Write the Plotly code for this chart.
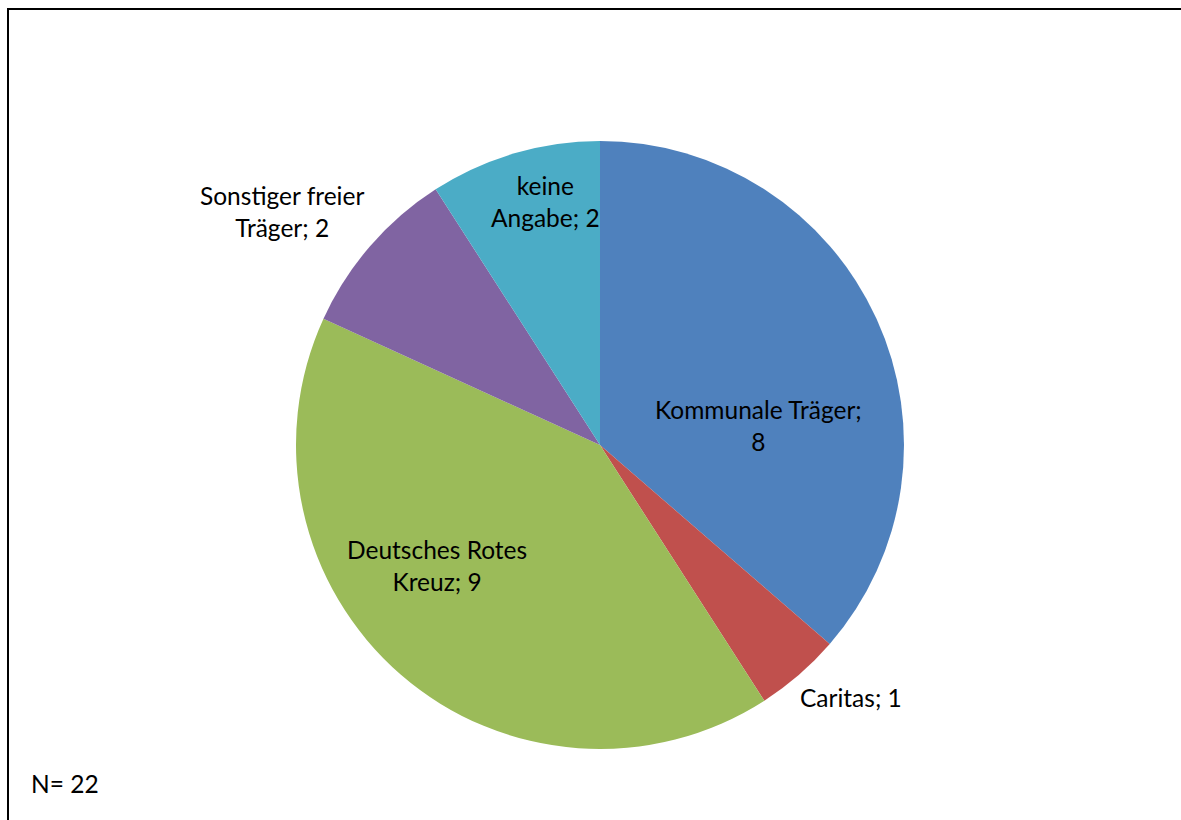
import plotly.graph_objects as go

categories = ["Kommunale Träger", "Caritas", "Deutsches Rotes Kreuz", "Sonstiger freier Träger", "keine Angabe"]
values = [8, 1, 9, 2, 2]
colors = ["#4F81BD", "#C0504D", "#9BBB59", "#8064A2", "#4BACC6"]
# label line breaks as in the original chart
label_lines = [
    ["Kommunale Träger;", "{v}"],
    ["Caritas; {v}"],
    ["Deutsches Rotes", "Kreuz; {v}"],
    ["Sonstiger freier", "Träger; {v}"],
    ["keine", "Angabe; {v}"],
]
n_total = sum(values)

W, H = 1181, 820
FONT = "Lato"
FS = 24.5

def px(x):
    return x / W

def py(y):
    return 1 - y / H

# label centre positions in pixels (x, y from top)
label_pos = [(758, 425), (851, 697), (437, 565), (282, 211), (545, 201)]

fig = go.Figure()
fig.add_trace(go.Pie(
    labels=categories,
    values=values,
    marker=dict(colors=colors, line=dict(width=0)),
    sort=False,
    direction="clockwise",
    rotation=0,
    textinfo="none",
    hoverinfo="label+value",
    showlegend=False,
    domain=dict(x=[px(296), px(904)], y=[py(749), py(141)]),
))

for lines, v, (x, y) in zip(label_lines, values, label_pos):
    text = "<br>".join(l.format(v=v) for l in lines)
    fig.add_annotation(
        x=px(x), y=py(y), xref="paper", yref="paper",
        text=text, showarrow=False, xanchor="center", yanchor="middle",
        align="center", font=dict(family=FONT, size=FS, color="black"),
    )

fig.add_annotation(
    x=px(29), y=py(783), xref="paper", yref="paper",
    text=f"N= {n_total}", showarrow=False, xanchor="left", yanchor="middle",
    font=dict(family=FONT, size=FS, color="black"),
)

# frame: only top and left edges are visible in the original
fig.add_shape(
    type="line", xref="paper", yref="paper",
    x0=px(7), x1=1.2, y0=py(9), y1=py(9),
    line=dict(color="black", width=2),
)
fig.add_shape(
    type="line", xref="paper", yref="paper",
    x0=px(8), x1=px(8), y0=-0.2, y1=py(8),
    line=dict(color="black", width=2),
)

fig.update_layout(
    width=W, height=H,
    margin=dict(l=0, r=0, t=0, b=0),
    paper_bgcolor="white", plot_bgcolor="white",
    font=dict(family=FONT),
)

fig.write_html(
    "out.html",
    config={"displayModeBar": False},
    post_script="document.body.style.margin='0';document.body.style.overflow='hidden';",
)
